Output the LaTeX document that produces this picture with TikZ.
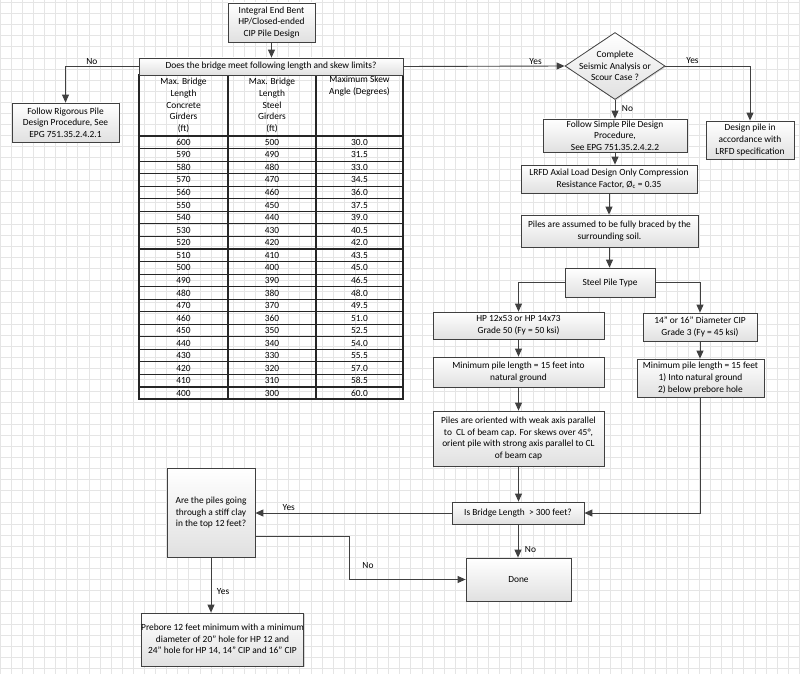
\documentclass[tikz,border=0pt]{standalone}
\usepackage{fontspec}
\setmainfont{Carlito}
\usetikzlibrary{arrows.meta, shapes.geometric, shadows}

\definecolor{edge}{HTML}{404040}
\definecolor{gridgray}{HTML}{E5E5E5}

\tikzset{
  txt/.style={font=\fontsize{9.4}{11.7}\selectfont},
  box/.style={txt, draw=edge, line width=0.8pt, top color=white, bottom color=black!12,
    drop shadow={shadow xshift=1pt, shadow yshift=-1pt, opacity=0.3},
    align=center, inner sep=0pt},
  sz/.style 2 args={minimum width=#1pt, minimum height=#2pt},
  decision/.style={box, diamond},
  conn/.style={draw=edge, line width=0.9pt, -{Triangle[length=8pt, width=7pt]}},
  lbl/.style={txt, inner sep=1.5pt},
  tabline/.style={line width=1.1pt, black!85},
  cell/.style={txt, inner sep=0pt, align=center},
  gridline/.style={gridgray, line width=0.5pt},
}

\begin{document}
\begin{tikzpicture}[x=1pt, y=-1pt]

    % page and background grid
    \fill[white] (0,0) rectangle (800,674);
    \useasboundingbox (0,0) rectangle (800,674);
    \foreach \i in {0,...,72}
        \draw[gridline] (\i*11.1,0) -- (\i*11.1,674);
    \foreach \j in {0,...,60}
        \draw[gridline] (0,2.3+\j*11.1) -- (800,2.3+\j*11.1);

    % limits table
    \draw[tabline] (139,75) rectangle (403,399);
    \draw[tabline] (228,75) -- (228,399) (316,75) -- (316,399);
    \foreach \k in {0,...,20}
        \draw[tabline] (139,136+\k*12.55) -- (403,136+\k*12.55);

    \node[cell] (hd-conc) at (183.5,105.5) {Max. Bridge\\Length\\Concrete\\Girders\\(ft)};
    \node[cell] (hd-stl) at (272,105.5) {Max. Bridge\\Length\\Steel\\Girders\\(ft)};
    \node[cell, anchor=north] (hd-skw) at (359.5,76) {Maximum Skew\\Angle (Degrees)};

    \foreach \k in {0,...,20} {
        \pgfmathtruncatemacro\conc{600-10*\k}
        \pgfmathtruncatemacro\stl{500-10*\k}
        \pgfmathtruncatemacro\tenths{300+15*\k}
        \pgfmathtruncatemacro\whole{\tenths/10}
        \pgfmathtruncatemacro\dec{mod(\tenths,10)}
        \node[cell] (conc-\k) at (183.5,142.3+\k*12.55) {\conc};
        \node[cell] (stl-\k) at (272,142.3+\k*12.55) {\stl};
        \node[cell] (skw-\k) at (359.5,142.3+\k*12.55) {\whole.\dec};
    }

    % flow boxes
    \node[box, sz={87}{39}] (start) at (271.5,22.5) {Integral End Bent\\HP/Closed-ended\\CIP Pile Design};
    \node[box, sz={264}{17}] (ask) at (271,66.5) {Does the bridge meet following length and skew limits?};
    \node[box, sz={107}{39}] (rigor) at (65.5,122.5) {Follow Rigorous Pile\\Design Procedure, See\\EPG 751.35.2.4.2.1};
    \node[decision, sz={100}{67},
        label={[lbl, align=center]center:Complete\\Seismic Analysis or\\Scour Case ?}] (seis) at (615,66) {};
    \node[box, sz={144}{33}] (simple) at (615,135.5) {Follow Simple Pile Design\\Procedure,\\See EPG 751.35.2.4.2.2};
    \node[box, sz={88}{38}] (lrfd) at (750,140) {Design pile in\\accordance with\\LRFD specification};
    \node[box, sz={176}{28}] (axial) at (609,179) {LRFD Axial Load Design Only Compression\\Resistance Factor, Ø\textsubscript{c} = 0.35};
    \node[box, sz={177}{32}] (brace) at (609.5,231) {Piles are assumed to be fully braced by the\\surrounding soil.};
    \node[box, sz={90}{29}] (ptype) at (610,282.5) {Steel Pile Type};
    \node[box, sz={171}{27}] (hp) at (518.5,325.5) {HP 12x53 or HP 14x73\\Grade 50 (Fy = 50 ksi)};
    \node[box, sz={114}{28}] (cip) at (700,327) {14" or 16" Diameter CIP\\Grade 3 (Fy = 45 ksi)};
    \node[box, sz={171}{30}] (minl) at (518.5,372) {Minimum pile length = 15 feet into\\natural ground};
    \node[box, sz={127}{38}] (minr) at (700.5,378) {Minimum pile length = 15 feet\\1) Into natural ground\\2) below prebore hole};
    \node[box, sz={171}{55}] (orient) at (518.5,438.5) {Piles are oriented with weak axis parallel\\to~ CL of beam cap. For skews over 45°,\\orient pile with strong axis parallel to CL\\of beam cap};
    \node[box, sz={132}{22}] (islen) at (518,513) {Is Bridge Length~ > 300 feet?};
    \node[box, sz={88}{89}] (clay) at (211,512.5) {Are the piles going\\through a stiff clay\\in the top 12 feet?};
    \node[box, sz={105}{43}] (done) at (518.5,579.5) {Done};
    \node[box, sz={153}{53}] (prebore) at (222.5,639.5) {Prebore 12 feet minimum with a minimum\\diameter of 20" hole for HP 12 and\\24" hole for HP 14, 14" CIP and 16" CIP};

    % connectors
    \draw[conn] (start.south) -- (start.south |- ask.north);
    \draw[conn] (ask.west) -| (rigor.north) node[lbl, pos=0.32, above] {No};
    \draw[conn] (ask.east) -- (seis.west) node[lbl, pos=0.82, above] {Yes};
    \draw[conn] (seis.east) -| (lrfd.north) node[lbl, pos=0.16, above] {Yes};
    \draw[conn] (seis.south) -- (seis.south |- simple.north) node[lbl, pos=0.45, right=5pt] {No};
    \draw[conn] (simple.south) -- (simple.south |- axial.north);
    \draw[conn] (axial.south) -- (axial.south |- brace.north);
    \draw[conn] (brace.south) -- (brace.south |- ptype.north);
    \draw[conn] (ptype.west) -| (hp.north);
    \draw[conn] (ptype.east) -| (cip.north);
    \draw[conn] (hp.south) -- (minl.north);
    \draw[conn] (cip.south) -- (cip.south |- minr.north);
    \draw[conn] (minl.south) -- (orient.north);
    \draw[conn] (orient.south) -- (orient.south |- islen.north);
    \draw[conn] (minr.south) |- (islen.east);
    \draw[conn] (islen.west) -- (islen.west -| clay.east) node[lbl, pos=0.83, above] {Yes};
    \draw[conn] (islen.south) -- (islen.south |- done.north) node[lbl, pos=0.76, right=5pt] {No};
    \draw[conn] ([yshift=-23.5pt]clay.east) -- ++(94,0) |- (done.west) node[lbl, pos=0.58, above=9pt] {No};
    \draw[conn] (clay.south) -- (clay.south |- prebore.north) node[lbl, pos=0.62, right=4pt] {Yes};

\end{tikzpicture}
\end{document}
